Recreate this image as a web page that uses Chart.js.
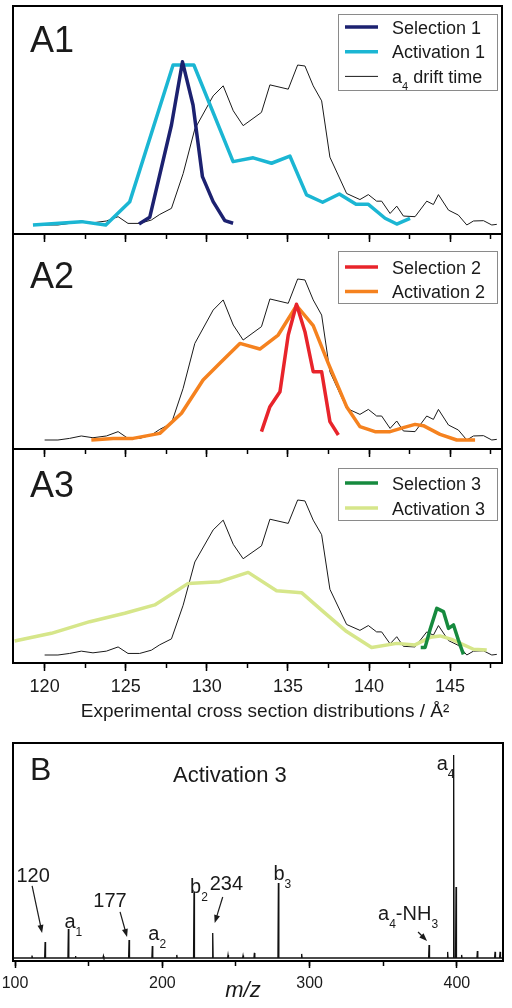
<!DOCTYPE html>
<html>
<head>
<meta charset="utf-8">
<script src="https://cdn.jsdelivr.net/npm/chart.js@4.4.0/dist/chart.umd.min.js"></script>
<style>
  html, body { margin: 0; padding: 0; background: #fff; }
  #wrap { position: relative; width: 512px; height: 1008px; background: #fff; }
  #wrap canvas { position: absolute; left: 0; top: 0; }
</style>
</head>
<body>
<div id="wrap">
  <canvas id="chartA1" width="512" height="1008"></canvas>
  <canvas id="chartA2" width="512" height="1008"></canvas>
  <canvas id="chartA3" width="512" height="1008"></canvas>
  <canvas id="chartB" width="512" height="1008"></canvas>
</div>
<script>
// a4 drift time, converted to cross section (same trace in A1-A3)
const driftCcs = [120.0, 120.82, 121.54, 122.26, 122.98, 123.81, 124.53, 125.14, 125.86, 126.58, 127.10, 127.82,
  128.54, 129.26, 130.39, 131.01, 131.63, 132.24, 133.37, 133.89, 135.02, 135.60, 136.05, 136.56, 137.08, 137.59,
  138.62, 139.44, 139.96, 140.47, 140.78, 141.30, 141.71, 142.12, 142.84, 143.56, 143.97, 144.28, 144.90, 145.51,
  146.03, 146.44, 147.06, 147.57, 147.88];
const driftInt = [0, 0, 1.0, 2.5, 1.4, 2.5, 5.2, 1.0, 1.0, 3.1, 6.6, 10.4,
  32.1, 60.0, 80.7, 87.0, 71.4, 62.1, 70.4, 87.6, 84.9, 100, 99.4, 87.0, 77.6, 42.4,
  19.7, 15.9, 19.0, 14.9, 14.9, 7.2, 11.8, 5.6, 5.2, 14.9, 12.8, 19.0, 9.3, 6.2,
  0, 2.5, 2.7, 0, 0.4];

// A1
const sel1Ccs = [125.82, 126.48, 127.82, 128.50, 129.15, 129.73, 130.39, 131.11, 131.62];
const sel1Int = [0.6, 4.8, 62.5, 102, 75, 30.2, 14.6, 2.7, 1.1];
const act1Ccs = [119.28, 122.27, 123.77, 125.25, 127.92, 129.20, 131.62, 132.86, 133.99, 135.12, 136.15, 137.14,
  138.17, 139.20, 139.96, 140.99, 141.71, 142.53];
const act1Int = [0, 2.1, 0, 14.6, 100, 100, 39.6, 42, 38.6, 43.1, 18.8, 14.2, 19.4, 12.9, 12.9, 4.2, 0.6, 4.2];

// A2
const sel2Ccs = [133.37, 133.89, 134.51, 135.02, 135.53, 136.05, 136.56, 137.08, 137.59, 138.11];
const sel2Int = [5.2, 20.7, 30.0, 65.2, 84.3, 67.3, 42.4, 42.4, 11.4, 3.1];
const act2Ccs = [122.88, 124.22, 125.45, 127.10, 128.44, 129.77, 130.91, 132.04, 133.27, 134.40, 135.53, 136.56,
  137.49, 138.62, 139.44, 140.37, 141.30, 142.12, 142.84, 143.35, 144.38, 145.41, 146.54];
const act2Int = [0, 1.0, 1.0, 4.1, 16.6, 37.3, 48.7, 60.0, 56.5, 65.2, 83.4, 71.0,
  47.6, 20.7, 8.3, 5.2, 5.2, 7.7, 9.7, 8.9, 3.5, 0, 0];

// A3
const sel3Ccs = [143.19, 143.46, 143.77, 144.18, 144.59, 144.90, 145.21, 145.51, 145.82];
const sel3Int = [4.9, 4.9, 16.6, 30.1, 28, 17.2, 19.4, 9.7, 0.4];
const act3Ccs = [118.15, 120.41, 122.78, 124.94, 126.79, 128.85, 130.80, 132.55, 134.30, 135.84, 137.18, 138.62,
  140.16, 141.71, 142.84, 143.77, 144.38, 145.10, 146.44, 147.26];
const act3Int = [9.0, 14.0, 21.5, 26.9, 32.3, 46.2, 47.3, 53.3, 41.5, 40.2, 28.0, 15.1,
  4.9, 7.5, 6.5, 11.4, 12.3, 10.1, 3.7, 3.2];

// B: mass spectrum (peak m/z and relative intensity)
const msMz = [111.5, 120.4, 136.2, 141.0, 160.0, 177.4, 193.2, 209.8, 221.5, 234.2, 244.6, 254.8, 262.5,
  278.8, 294.6, 381.1, 393.7, 397.8, 399.4, 403.2, 413.9, 425.9, 429.3];
const msInt = [1.2, 7.9, 14.3, 1.0, 1.0, 8.9, 5.9, 1.5, 32.5, 12.3, 1.5, 1.2, 2.5,
  36.9, 2.0, 6.4, 3.0, 100, 35, 1.5, 3.4, 3.0, 3.0];
const msLabels = ['120', 'a_1', '177', 'a_2', 'b_2', '234', 'b_3', 'a_4-NH_3', 'a_4'];
const msLabelMz = [120.4, 136.2, 177.4, 193.2, 221.5, 234.2, 278.8, 381.1, 397.8];

const ccsTicks = [120, 125, 130, 135, 140, 145];
const mzTicks = [100, 200, 300, 400];

const FONT = '"Liberation Sans", Arial, Helvetica, sans-serif';
const INK = '#1a1a1a';
Chart.defaults.font.family = FONT;
Chart.defaults.color = INK;

function pts(xs, ys) {
  return xs.map((x, i) => ({ x: x, y: ys[i] }));
}

function sticks(mz, inten, lo, hi) {
  const out = [{ x: lo, y: 0 }];
  mz.forEach((m, i) => {
    out.push({ x: m - 0.3, y: 0 }, { x: m, y: inten[i] }, { x: m + 0.3, y: 0 });
  });
  out.push({ x: hi, y: 0 });
  return out;
}

// text with "_" marking the next char as subscript
function richText(ctx, str, x, y, size, align) {
  const parts = [];
  for (let i = 0; i < str.length; i++) {
    if (str[i] === '_' && i + 1 < str.length) {
      parts.push({ t: str[i + 1], sub: true });
      i++;
    } else if (parts.length && !parts[parts.length - 1].sub) {
      parts[parts.length - 1].t += str[i];
    } else {
      parts.push({ t: str[i], sub: false });
    }
  }
  const subSize = Math.round(size * 0.62);
  let w = 0;
  parts.forEach(p => {
    ctx.font = (p.sub ? subSize : size) + 'px ' + FONT;
    p.w = ctx.measureText(p.t).width;
    w += p.w;
  });
  let cx = align === 'center' ? x - w / 2 : x;
  ctx.textAlign = 'left';
  ctx.textBaseline = 'alphabetic';
  parts.forEach(p => {
    ctx.font = (p.sub ? subSize : size) + 'px ' + FONT;
    ctx.fillText(p.t, cx, p.sub ? y + size * 0.38 : y);
    cx += p.w;
  });
}

function arrow(ctx, x1, y1, x2, y2) {
  const a = Math.atan2(y2 - y1, x2 - x1);
  const len = 8, half = 3;
  ctx.beginPath();
  ctx.moveTo(x1, y1);
  ctx.lineTo(x2 - Math.cos(a) * len * 0.8, y2 - Math.sin(a) * len * 0.8);
  ctx.stroke();
  ctx.beginPath();
  ctx.moveTo(x2, y2);
  ctx.lineTo(x2 - Math.cos(a) * len - Math.sin(a) * half, y2 - Math.sin(a) * len + Math.cos(a) * half);
  ctx.lineTo(x2 - Math.cos(a) * len + Math.sin(a) * half, y2 - Math.sin(a) * len - Math.cos(a) * half);
  ctx.closePath();
  ctx.fill();
}

// frame, panel label, legend and extra text for one panel
function deco(cfg) {
  return {
    id: 'deco',
    afterDraw(chart) {
      const ctx = chart.ctx;
      const a = chart.chartArea;
      ctx.save();
      ctx.strokeStyle = '#000';
      ctx.lineWidth = 2;
      ctx.strokeRect(a.left, a.top, a.right - a.left, a.bottom - a.top);
      ctx.fillStyle = INK;
      ctx.font = cfg.labelSize + 'px ' + FONT;
      ctx.textBaseline = 'alphabetic';
      ctx.fillText(cfg.label, cfg.labelX, cfg.labelY);

      if (cfg.legend) {
        const L = cfg.legend;
        ctx.strokeStyle = '#8a8a8a';
        ctx.lineWidth = 1;
        ctx.strokeRect(L.x + 0.5, L.y + 0.5, L.w, L.h);
        const items = chart.data.datasets.filter(d => d.inLegend);
        items.forEach((d, i) => {
          const yy = L.y + L.first + i * L.step;
          ctx.strokeStyle = d.borderColor;
          ctx.lineWidth = d.borderWidth;
          ctx.beginPath();
          ctx.moveTo(L.x + 7, yy);
          ctx.lineTo(L.x + 40, yy);
          ctx.stroke();
          ctx.fillStyle = INK;
          richText(ctx, d.label, L.x + 54, yy + 6.5, 18, 'left');
        });
      }
      if (cfg.extra) cfg.extra(chart, ctx);
      ctx.restore();
    }
  };
}

// fixed axis heights so the plot box lands where the picture has it
function fitTo(h) {
  return s => {
    s.height = h;
    s.paddingLeft = 0;
    s.paddingRight = 0;
  };
}

function ccsPanel(id, top, bottom, yMin, yMax, datasets, cfg, showLabels) {
  const labelH = showLabels ? 40 : 0;
  return new Chart(document.getElementById(id), {
    type: 'line',
    data: { datasets: datasets },
    options: {
      responsive: false,
      animation: false,
      events: [],
      layout: { autoPadding: false, padding: { left: 13, right: 10, top: top, bottom: 1008 - bottom - labelH } },
      plugins: { legend: { display: false }, tooltip: { enabled: false } },
      elements: { point: { radius: 0 }, line: { tension: 0, borderJoinStyle: 'round', borderCapStyle: 'butt' } },
      scales: {
        x: {
          type: 'linear', position: 'bottom', weight: 2, min: 118.05, max: 148.2,
          afterFit: fitTo(labelH),
          border: { display: false },
          grid: { drawOnChartArea: false, drawTicks: true, tickLength: 8, tickColor: '#000', tickWidth: 1.5 },
          ticks: {
            display: showLabels, stepSize: 5, includeBounds: false, autoSkip: false, maxRotation: 0,
            padding: 5, color: INK, font: { size: 18 },
            callback: v => ccsTicks.includes(v) ? String(v) : ''
          }
        },
        xm: {
          type: 'linear', position: 'bottom', weight: 0, axis: 'x', min: 118.05, max: 148.2,
          afterFit: fitTo(0),
          border: { display: false },
          grid: { drawOnChartArea: false, drawTicks: true, tickLength: 5, tickColor: '#000', tickWidth: 1.5 },
          ticks: { display: false, stepSize: 2.5, includeBounds: false, autoSkip: false }
        },
        y: { display: false, min: yMin, max: yMax }
      }
    },
    plugins: [deco(cfg)]
  });
}

function drift(inLegend) {
  return { label: 'a_4 drift time', inLegend: inLegend, data: pts(driftCcs, driftInt), borderColor: '#1a1a1a', borderWidth: 1 };
}

ccsPanel('chartA1', 6, 234, -5.63, 136.9, [
  { label: 'Selection 1', inLegend: true, data: pts(sel1Ccs, sel1Int), borderColor: '#1c2170', borderWidth: 3.5 },
  { label: 'Activation 1', inLegend: true, data: pts(act1Ccs, act1Int), borderColor: '#1bb6d3', borderWidth: 3.5 },
  drift(true)
], { label: 'A1', labelSize: 36, labelX: 30, labelY: 52,
     legend: { x: 338, y: 14, w: 159, h: 76, first: 13, step: 24.7 } }, false);

ccsPanel('chartA2', 234, 449, -5.59, 127.95, [
  { label: 'Selection 2', inLegend: true, data: pts(sel2Ccs, sel2Int), borderColor: '#e8242b', borderWidth: 3.5 },
  { label: 'Activation 2', inLegend: true, data: pts(act2Ccs, act2Int), borderColor: '#f5821f', borderWidth: 3.5 },
  drift(false)
], { label: 'A2', labelSize: 36, labelX: 30, labelY: 288,
     legend: { x: 338, y: 251, w: 159, h: 52, first: 16, step: 24.5 } }, false);

ccsPanel('chartA3', 449, 663, -5.16, 132.9, [
  { label: 'Selection 3', inLegend: true, data: pts(sel3Ccs, sel3Int), borderColor: '#168a3e', borderWidth: 3.5 },
  { label: 'Activation 3', inLegend: true, data: pts(act3Ccs, act3Int), borderColor: '#d6e68a', borderWidth: 3.5 },
  drift(false)
], { label: 'A3', labelSize: 36, labelX: 30, labelY: 497,
     legend: { x: 338, y: 468, w: 159, h: 52, first: 15, step: 25 },
     extra: (chart, ctx) => {
       ctx.fillStyle = INK;
       ctx.font = '19px ' + FONT;
       ctx.textAlign = 'center';
       ctx.fillText('Experimental cross section distributions / Å²', 265, 717);
     } }, true);

// peak label placement relative to peak top
const msLabelPos = {
  '120': { dx: -12, dy: -60, align: 'center', arrow: [-13, -56, -3, -9] },
  'a_1': { dx: -4, dy: -1, align: 'left' },
  '177': { dx: -19, dy: -33, align: 'center', arrow: [-9, -28, -2, -3] },
  'a_2': { dx: -4, dy: -6, align: 'left' },
  'b_2': { dx: -4, dy: 1, align: 'left' },
  '234': { dx: -3, dy: -43, align: 'left', arrow: [10, -36, 2, -10] },
  'b_3': { dx: -5, dy: -3, align: 'left' },
  'a_4-NH_3': { dx: -51, dy: -25, align: 'left', arrow: [-11, -13, -2, -4] },
  'a_4': { dx: -17, dy: 15, align: 'left' }
};

const mzMin = 98.6, mzMax = 431.3;
new Chart(document.getElementById('chartB'), {
  type: 'line',
  data: {
    datasets: [{ data: sticks(msMz, msInt, mzMin, mzMax), borderColor: '#111', borderWidth: 1.3 }]
  },
  options: {
    responsive: false,
    animation: false,
    events: [],
    layout: { autoPadding: false, padding: { left: 13, right: 9, top: 743, bottom: 1008 - 961 - 40 } },
    plugins: { legend: { display: false }, tooltip: { enabled: false } },
    elements: { point: { radius: 0 }, line: { tension: 0 } },
    scales: {
      x: {
        type: 'linear', position: 'bottom', weight: 2, min: mzMin, max: mzMax,
        afterFit: fitTo(40),
        border: { display: false },
        grid: { drawOnChartArea: false, drawTicks: true, tickLength: 7, tickColor: '#000', tickWidth: 1.5 },
        ticks: {
          stepSize: 100, includeBounds: false, autoSkip: false, maxRotation: 0, padding: 6, color: INK,
          font: { size: 16, family: '"Liberation Sans Narrow", "Arial Narrow", "Liberation Sans", sans-serif' },
          callback: v => mzTicks.includes(v) ? String(v) : ''
        }
      },
      xm: {
        type: 'linear', position: 'bottom', weight: 0, axis: 'x', min: mzMin, max: mzMax,
        afterFit: fitTo(0),
        border: { display: false },
        grid: { drawOnChartArea: false, drawTicks: true, tickLength: 5, tickColor: '#000', tickWidth: 1.5 },
        ticks: { display: false, stepSize: 50, includeBounds: false, autoSkip: false }
      },
      y: { display: false, min: -1.48, max: 105.9 }
    }
  },
  plugins: [deco({
    label: 'B', labelSize: 32, labelX: 30, labelY: 780,
    extra: (chart, ctx) => {
      const xs = chart.scales.x, ys = chart.scales.y;
      ctx.fillStyle = INK;
      ctx.strokeStyle = INK;
      ctx.lineWidth = 1.2;
      ctx.font = '22px ' + FONT;
      ctx.textAlign = 'left';
      ctx.fillText('Activation 3', 173, 782);
      msLabels.forEach((lab, i) => {
        const m = msLabelMz[i];
        const px = xs.getPixelForValue(m);
        const py = ys.getPixelForValue(msInt[msMz.indexOf(m)]);
        const p = msLabelPos[lab];
        richText(ctx, lab, px + p.dx, py + p.dy, 20, p.align);
        if (p.arrow) arrow(ctx, px + p.arrow[0], py + p.arrow[1], px + p.arrow[2], py + p.arrow[3]);
      });
      ctx.font = 'italic 22px ' + FONT;
      ctx.textAlign = 'center';
      ctx.fillText('m/z', 243, 997);
    }
  })]
});
</script>
</body>
</html>
